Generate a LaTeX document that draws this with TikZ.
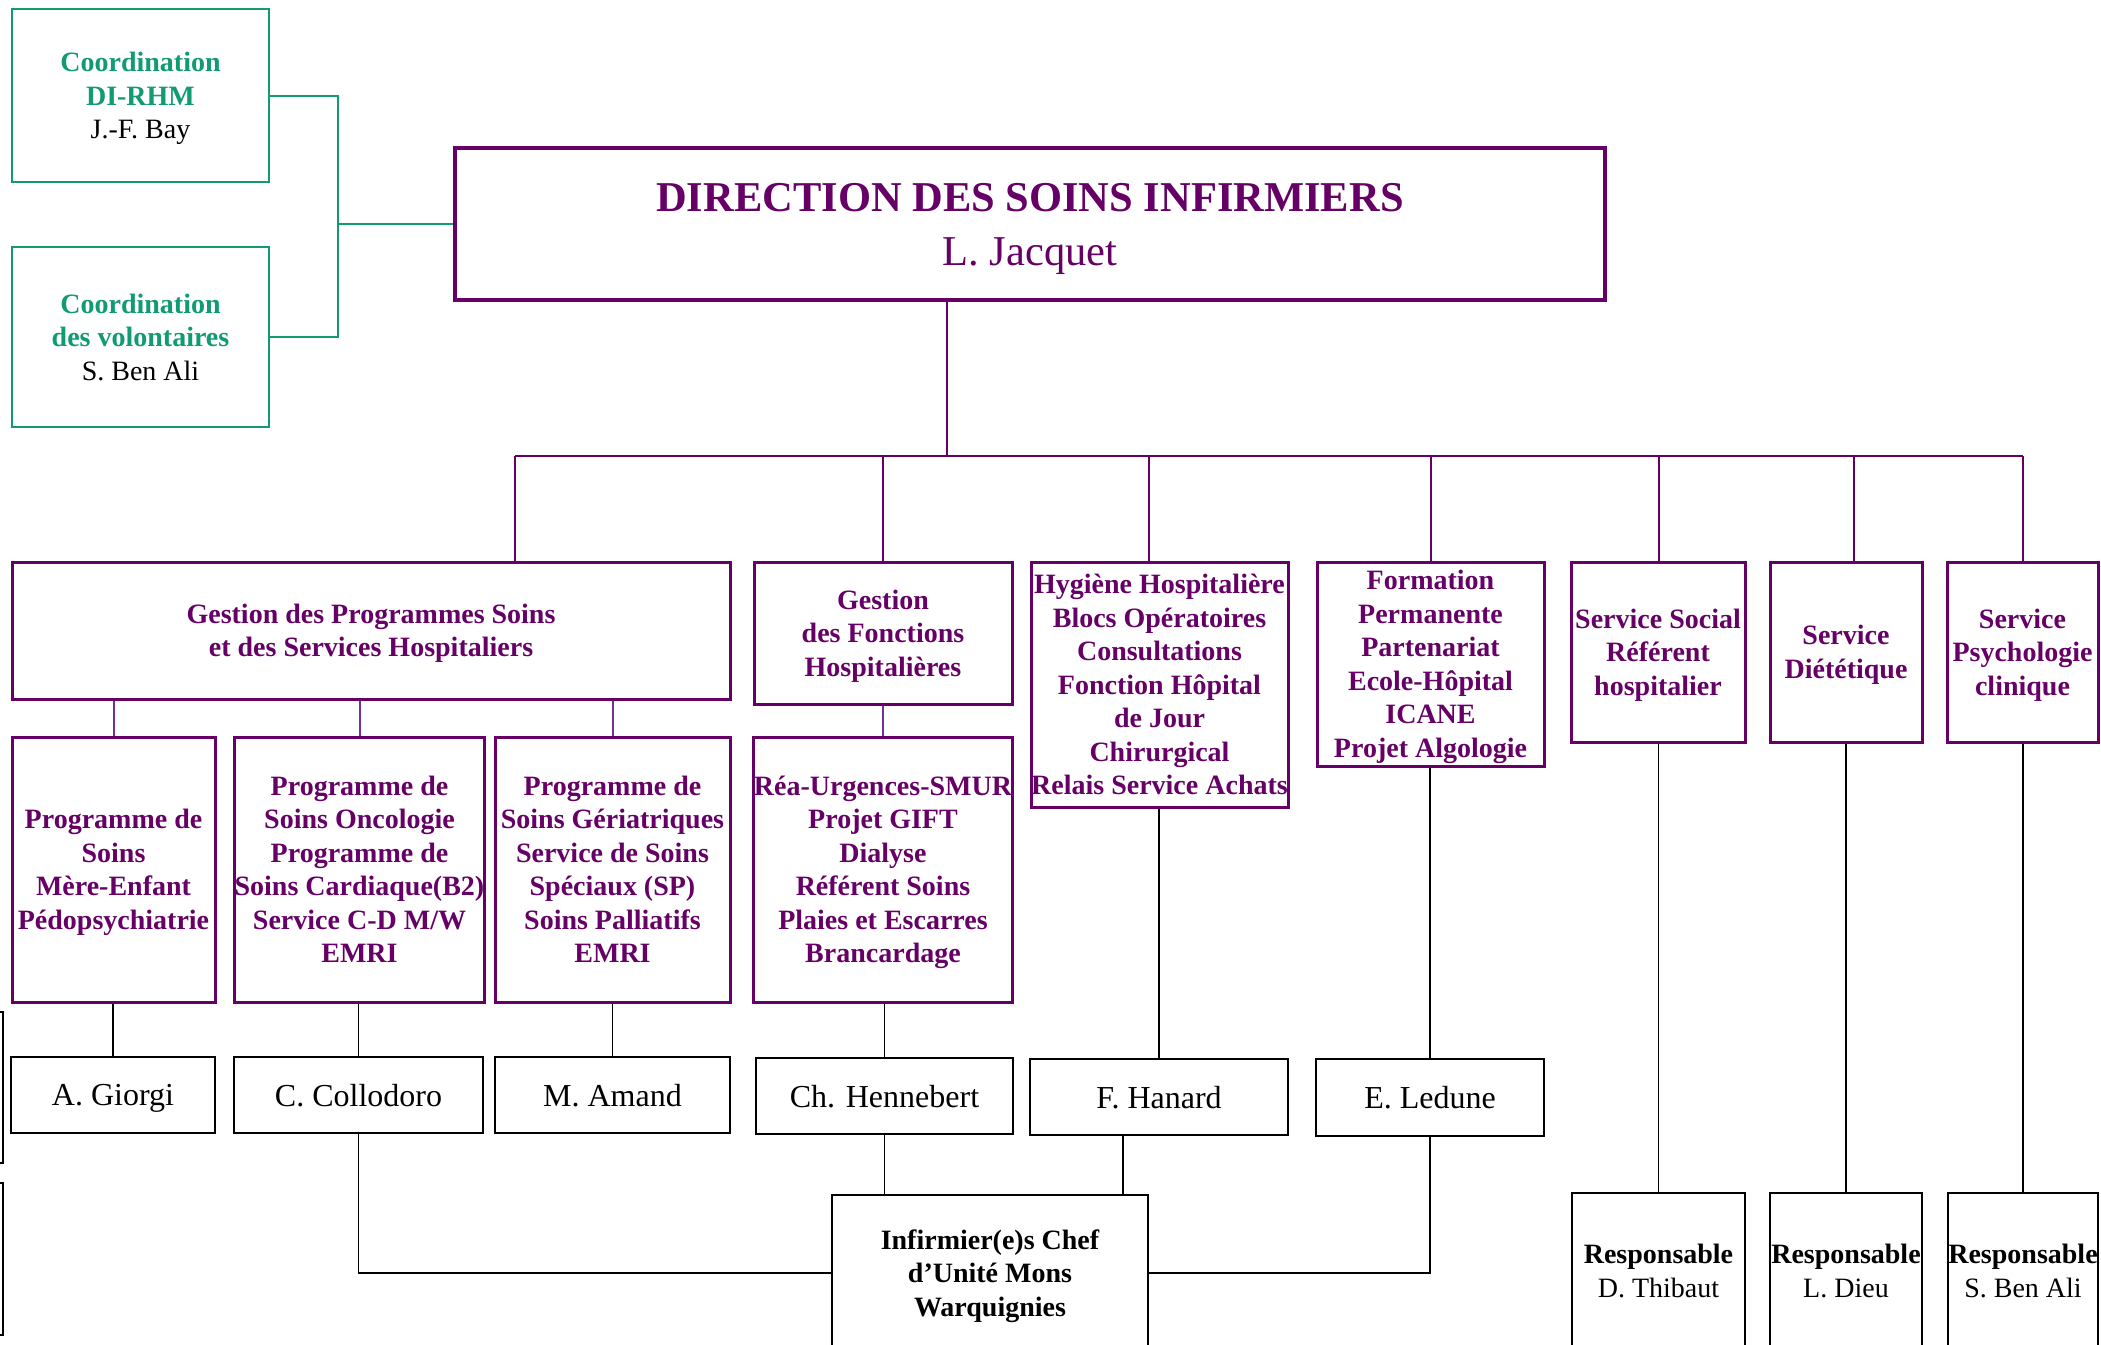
\documentclass[tikz,border=0pt]{standalone}
\usepackage{fontspec}
\setmainfont{Liberation Serif}
\definecolor{dsipurple}{RGB}{102,0,102}
\definecolor{dsigreen}{RGB}{16,155,115}
\definecolor{dsiviolet}{RGB}{112,48,160}

\begin{document}
\begin{tikzpicture}[x=0.5pt,y=-0.5pt,
    pbox/.style={draw=dsipurple, line width=1.5pt, inner sep=0pt, align=center, text depth=0pt,
      text=dsipurple, font=\fontsize{14}{16.75}\selectfont\bfseries},
    gbox/.style={draw=dsigreen, line width=1pt, inner sep=0pt, align=center, text depth=0pt,
      text=dsigreen, font=\fontsize{14}{16.75}\selectfont\bfseries},
    nbox/.style={draw=black, line width=1.25pt, inner sep=0pt, align=center, text depth=0pt,
      font=\fontsize{16}{19}\selectfont},
    rbox/.style={draw=black, line width=1.25pt, inner sep=0pt, align=center, text depth=0pt,
      font=\fontsize{14}{16.75}\selectfont},
    plink/.style={draw=dsipurple, line width=1pt},
    vlink/.style={draw=dsiviolet, line width=1pt},
    glink/.style={draw=dsigreen, line width=1pt},
    blink/.style={draw=black, line width=0.9pt}]
    \useasboundingbox (0,0) rectangle (2101,1345);
    % coordination
    \node[gbox, minimum width=128.5pt, minimum height=86.5pt] (dirhm) at (140.5,95.5)
      {Coordination\\DI-RHM\\{\color{black}\mdseries J.-F. Bay}};
    \node[gbox, minimum width=128.5pt, minimum height=90pt] (volont) at (140.5,337)
      {Coordination\\des volontaires\\{\color{black}\mdseries S. Ben Ali}};
    % direction
    \node[pbox, line width=1.75pt, font=\fontsize{21.25}{27}\selectfont,
      minimum width=575pt, minimum height=76pt] (dsi) at (1030,224)
      {{\bfseries DIRECTION DES SOINS INFIRMIERS}\\L. Jacquet};
    % departments
    \node[pbox, minimum width=359pt, minimum height=68.5pt] (gpsh) at (371,630.5)
      {Gestion des Programmes Soins\\et des Services Hospitaliers};
    \node[pbox, minimum width=129pt, minimum height=71pt] (gfh) at (883,633)
      {Gestion\\des Fonctions\\Hospitalières};
    \node[pbox, minimum width=128.5pt, minimum height=122.5pt] (hyg) at (1159.5,684.5)
      {Hygiène Hospitalière\\Blocs Opératoires\\Consultations\\Fonction Hôpital\\de Jour\\Chirurgical\\Relais Service Achats};
    \node[pbox, minimum width=113.5pt, minimum height=102pt] (form) at (1430.5,664)
      {Formation\\Permanente\\Partenariat\\Ecole-Hôpital\\ICANE\\Projet Algologie};
    \node[pbox, minimum width=87pt, minimum height=90pt] (social) at (1658,652)
      {Service Social\\Référent\\hospitalier};
    \node[pbox, minimum width=76pt, minimum height=90pt] (diet) at (1846,652)
      {Service\\Diététique};
    \node[pbox, minimum width=75.5pt, minimum height=90pt] (psy) at (2022.5,652)
      {Service\\Psychologie\\clinique};
    % programmes
    \node[pbox, minimum width=101.5pt, minimum height=132.5pt] (mere) at (113.5,869.5)
      {Programme de\\Soins\\Mère-Enfant\\Pédopsychiatrie};
    \node[pbox, minimum width=124.5pt, minimum height=132.5pt] (onco) at (359.5,869.5)
      {Programme de\\Soins Oncologie\\Programme de\\Soins Cardiaque(B2)\\Service C-D M/W\\EMRI};
    \node[pbox, minimum width=117.5pt, minimum height=132.5pt] (geri) at (612.5,869.5)
      {Programme de\\Soins Gériatriques\\Service de Soins\\Spéciaux (SP)\\Soins Palliatifs\\EMRI};
    \node[pbox, minimum width=129pt, minimum height=132.5pt] (rea) at (883,869.5)
      {Réa-Urgences-SMUR\\Projet GIFT\\Dialyse\\Référent Soins\\Plaies et Escarres\\Brancardage};
    % heads
    \node[nbox, minimum width=102pt, minimum height=38pt] (giorgi) at (113,1095) {A. Giorgi};
    \node[nbox, minimum width=124.5pt, minimum height=38pt] (collo) at (358.5,1095) {C. Collodoro};
    \node[nbox, minimum width=117.5pt, minimum height=38pt] (amand) at (612.5,1095) {M. Amand};
    \node[nbox, minimum width=128.5pt, minimum height=38pt] (henne) at (884.5,1096) {Ch. Hennebert};
    \node[nbox, minimum width=129pt, minimum height=38pt] (hanard) at (1159,1097) {F. Hanard};
    \node[nbox, minimum width=114pt, minimum height=38.5pt] (ledune) at (1430,1097.5) {E. Ledune};
    \node[rbox, minimum width=158pt, minimum height=78pt] (ichef) at (990,1273)
      {{\bfseries Infirmier(e)s Chef}\\{\bfseries d’Unité Mons}\\{\bfseries Warquignies}};
    \node[rbox, minimum width=86.5pt, minimum height=78pt] (thibaut) at (1658.5,1271)
      {{\bfseries Responsable}\\D. Thibaut};
    \node[rbox, minimum width=76pt, minimum height=78pt] (dieu) at (1846,1271)
      {{\bfseries Responsable}\\L. Dieu};
    \node[rbox, minimum width=75pt, minimum height=78pt] (benali) at (2023,1271)
      {{\bfseries Responsable}\\S. Ben Ali};
    % boxes cut off at the left edge
    \draw[black, line width=1pt] (-20,1012) rectangle (3,1163);
    \draw[black, line width=1pt] (-20,1183) rectangle (3,1335);
    % links
    \coordinate (gjoin) at (338,224);
    \draw[glink] (dirhm.east) -| (gjoin) |- (volont.east);
    \draw[glink] (gjoin) -- (dsi.west);
    \coordinate (busL) at (515,456);
    \coordinate (busR) at (2023,456);
    \coordinate (busD) at (947,456);
    \draw[plink] (busL) -- (busR);
    \draw[plink] (busD |- dsi.south) -- (busD);
    \draw[plink] (busL) -- (busL |- gpsh.north);
    \foreach \n/\s in {gfh/0, hyg/-5.5, form/0, social/0.5, diet/4, psy/0}
      \draw[plink] ([xshift=\s pt]\n.north) -- ([xshift=\s pt]\n.north |- busL);
    \foreach \n in {mere,onco,geri}
      \draw[vlink] (\n.north) -- (\n.north |- gpsh.south);
    \draw[vlink] (gfh.south) -- (gfh.south |- rea.north);
    \foreach \a/\b in {mere/giorgi, onco/collo, geri/amand, rea/henne, hyg/hanard,
        form/ledune, social/thibaut, diet/dieu, psy/benali}
      \draw[blink] (\b.north) -- (\b.north |- \a.south);
    \draw[blink] (collo.south) |- (ichef.west);
    \draw[blink] (henne.south) -- (henne.south |- ichef.north);
    \draw[blink] ([xshift=-18pt]hanard.south) -- ([xshift=-18pt]hanard.south |- ichef.north);
    \draw[blink] (ledune.south) |- (ichef.east);
\end{tikzpicture}
\end{document}
